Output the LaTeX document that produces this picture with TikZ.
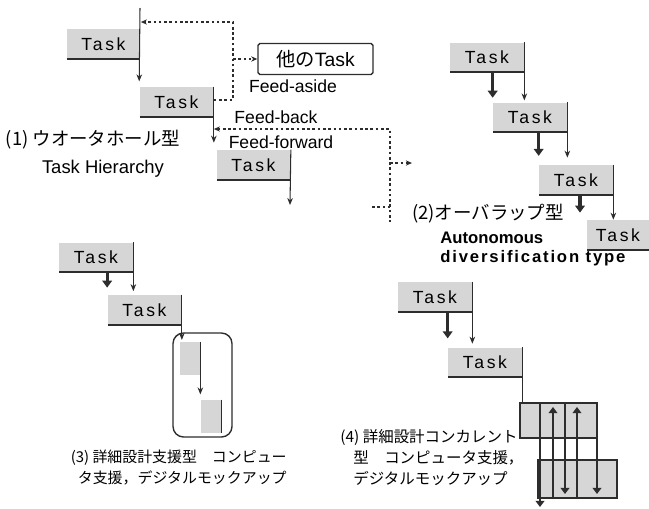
\documentclass[tikz,border=0pt]{standalone}
\usepackage{fontspec}
\setmainfont{Liberation Sans}
\newfontfamily\jpfont{Noto Sans CJK JP}
\newfontfamily\spacedsans[LetterSpace=15]{Liberation Sans}
\newfontfamily\widesans[LetterSpace=11]{Liberation Sans}
\usepackage{tikz}
\usetikzlibrary{positioning,arrows.meta,calc}
\definecolor{ink}{RGB}{45,45,45}
\definecolor{shade}{RGB}{214,214,214}

\begin{document}
\begin{tikzpicture}[x=0.02cm, y=-0.02cm,
  task/.style={fill=shade, inner sep=0pt, minimum width=1.48cm, minimum height=0.6cm,
    font=\spacedsans\fontsize{10}{12}\selectfont,
    path picture={\draw[ink, line width=1.2pt] (path picture bounding box.south west) -- (path picture bounding box.south east);}},
  flow/.style={draw=ink, line width=0.6pt, -{Stealth[length=4pt,width=3.2pt]}},
  bold/.style={draw=ink, line width=1.8pt, -{Triangle[length=4pt,width=5.5pt]}},
  fb/.style={draw=ink, line width=0.6pt, dash pattern=on 1.5pt off 1.5pt},
  tip/.style={-{Stealth[length=3.5pt,width=3pt]}},
  lbl/.style={inner sep=0pt, font=\fontsize{10}{12}\selectfont},
  jp/.style={inner sep=0pt, font=\jpfont\fontsize{8.5}{10}\selectfont},
  jpbig/.style={inner sep=0pt, font=\jpfont\fontsize{10.5}{12}\selectfont},
  cell/.style={draw=ink, fill=shade, line width=1.6pt, inner sep=0pt}
]
\useasboundingbox (0,0) rectangle (649,508);

\node[task] (t1) at (103.5,44) {Task};
\node[task] (t2) at (176.5,102) {Task};
\node[task] (t3) at (253.5,165) {Task};
\node[draw=ink, line width=0.8pt, rounded corners=1pt, minimum width=2.3cm, minimum height=0.62cm,
  font=\fontsize{11}{12}\selectfont] (oth) at (315.5,59) {{\jpfont 他の}Task};
\coordinate (t1top) at (140,8);
\coordinate (t3end) at (290,205);
\draw[flow, shorten >=3pt] (t1top) -- (t2.north west);
\draw[flow, shorten >=4pt] (t2.north east) -- (t2.north east |- t3.north);
\draw[flow] (t3.north east) -- (t3end);

\coordinate (fbk) at (233,22);
\coordinate (fbl) at (233,100);
\draw[fb, tip] (t2.north east |- fbl) -- (fbl) -- (fbk) -- (t1.north east |- fbk);
\draw[fb, tip] (fbk |- oth.west) -- (oth.west);
\coordinate (ffk) at (390,129);
\coordinate (ffe) at (390,222);
\coordinate (ffo) at (412,163);
\coordinate (ffi) at (372,207);
\draw[fb, {Stealth[length=3.5pt,width=3pt]}-] (t2.north east |- ffk) -- (ffk) -- (ffe);
\draw[fb, tip] (ffk |- ffo) -- (ffo);
\draw[fb] (ffi) -- (ffk |- ffi);

\node[lbl] (fa) at (293,86) {Feed-aside};
\node[lbl] (fbt) at (276,117) {Feed-back};
\node[lbl] (fft) at (281,142) {Feed-forward};
\node[jpbig] (c1) at (93,140) {(1) ウオータホール型};
\node[lbl, font=\fontsize{10.5}{12}\selectfont] (c1e) at (103,169) {Task Hierarchy};

\node[task] (ta) at (487,57.5) {Task};
\node[task] (tb) at (530,117.5) {Task};
\node[task] (tc) at (576,180) {Task};
\node[task, minimum width=1.24cm] (td) at (618,235) {Task};
\draw[flow, shorten >=1pt] (ta.north east) -- (ta.north east |- tb.north);
\draw[flow, shorten >=4pt] (tb.north east) -- (tb.north east |- tc.north);
\draw[flow] (tc.north east) -- (tc.north east |- td.north);
\draw[bold, shorten >=2.5pt] (ta.south -| tb.west) -- (tb.north west);
\draw[bold, shorten >=5pt] (tb.south -| tc.west) -- (tc.north west);
\draw[bold, shorten >=4pt] ([xshift=0.08cm]tc.south) -- ([xshift=0.08cm]tc.south |- td.north);
\node[jpbig] (c2) at (488,214) {(2)オーバラップ型};
\node[lbl, anchor=west, font=\bfseries\fontsize{9.5}{11}\selectfont] (c2a) at (440,238) {Autonomous};
\node[lbl, anchor=west, font=\widesans\bfseries\fontsize{9.5}{11}\selectfont] (c2b) at (440,258) {diversification type};

\node[task] (te) at (96,257.5) {Task};
\node[task] (tf) at (144.5,310) {Task};
\node[draw=ink, line width=0.8pt, rounded corners=6pt, minimum width=1.18cm, minimum height=2.08cm] (rb) at (202.5,385) {};
\node[fill=shade, inner sep=0pt, minimum width=0.4cm, minimum height=0.66cm] (s1) at (190,358.5) {};
\node[fill=shade, inner sep=0pt, minimum width=0.4cm, minimum height=0.66cm] (s2) at (211,416.5) {};
\draw[flow, shorten >=2pt] (te.north east) -- (te.north east |- tf.north);
\draw[bold, shorten >=4pt] (te.south -| tf.west) -- (tf.north west);
\draw[flow, shorten >=1pt] (tf.north east) -- (tf.north east |- s1.north);
\draw[flow, shorten >=3pt] (s1.north east) -- (s1.north east |- s2.north);
\draw[ink, line width=0.6pt] (s2.north east) -- (s2.south east);
\node[jp, anchor=east] (c3a) at (287,458) {(3) 詳細設計支援型　コンピュー};
\node[jp, anchor=east] (c3b) at (287,478) {タ支援，デジタルモックアップ};

\node[task] (tg) at (435,297) {Task};
\node[task] (th) at (485,362.5) {Task};
\node[cell, minimum width=1.54cm, minimum height=0.7cm] (gu) at (558.5,420.5) {};
\node[cell, minimum width=1.58cm, minimum height=0.76cm] (gl) at (577.5,479) {};
\draw[flow, shorten >=2pt] (tg.north east) -- (tg.north east |- th.north);
\draw[bold, shorten >=5pt] (tg.south -| th.west) -- (th.north west);
\draw[ink, line width=0.6pt] (th.north east) -- (th.north east |- gu.north);
\foreach \x in {565,597}
  \draw[ink, line width=1.6pt, -{Triangle[length=3.5pt,width=5pt]}] (\x,403) -- (\x,494);
\foreach \x in {553,577}
  \draw[ink, line width=1.6pt, -{Triangle[length=3.5pt,width=5pt]}] (\x,498) -- (\x,407);
\draw[ink, line width=1.6pt, -{Triangle[length=3.5pt,width=5pt]}] (540,403) -- (540,507);
\node[jp, anchor=west, font=\jpfont\fontsize{8.8}{10}\selectfont] (c4a) at (340,437) {(4) 詳細設計コンカレント};
\node[jp, anchor=west, font=\jpfont\fontsize{8.8}{10}\selectfont] (c4b) at (353,458) {型　コンピュータ支援，};
\node[jp, anchor=west, font=\jpfont\fontsize{8.8}{10}\selectfont] (c4c) at (353,478) {デジタルモックアップ};
\end{tikzpicture}
\end{document}
